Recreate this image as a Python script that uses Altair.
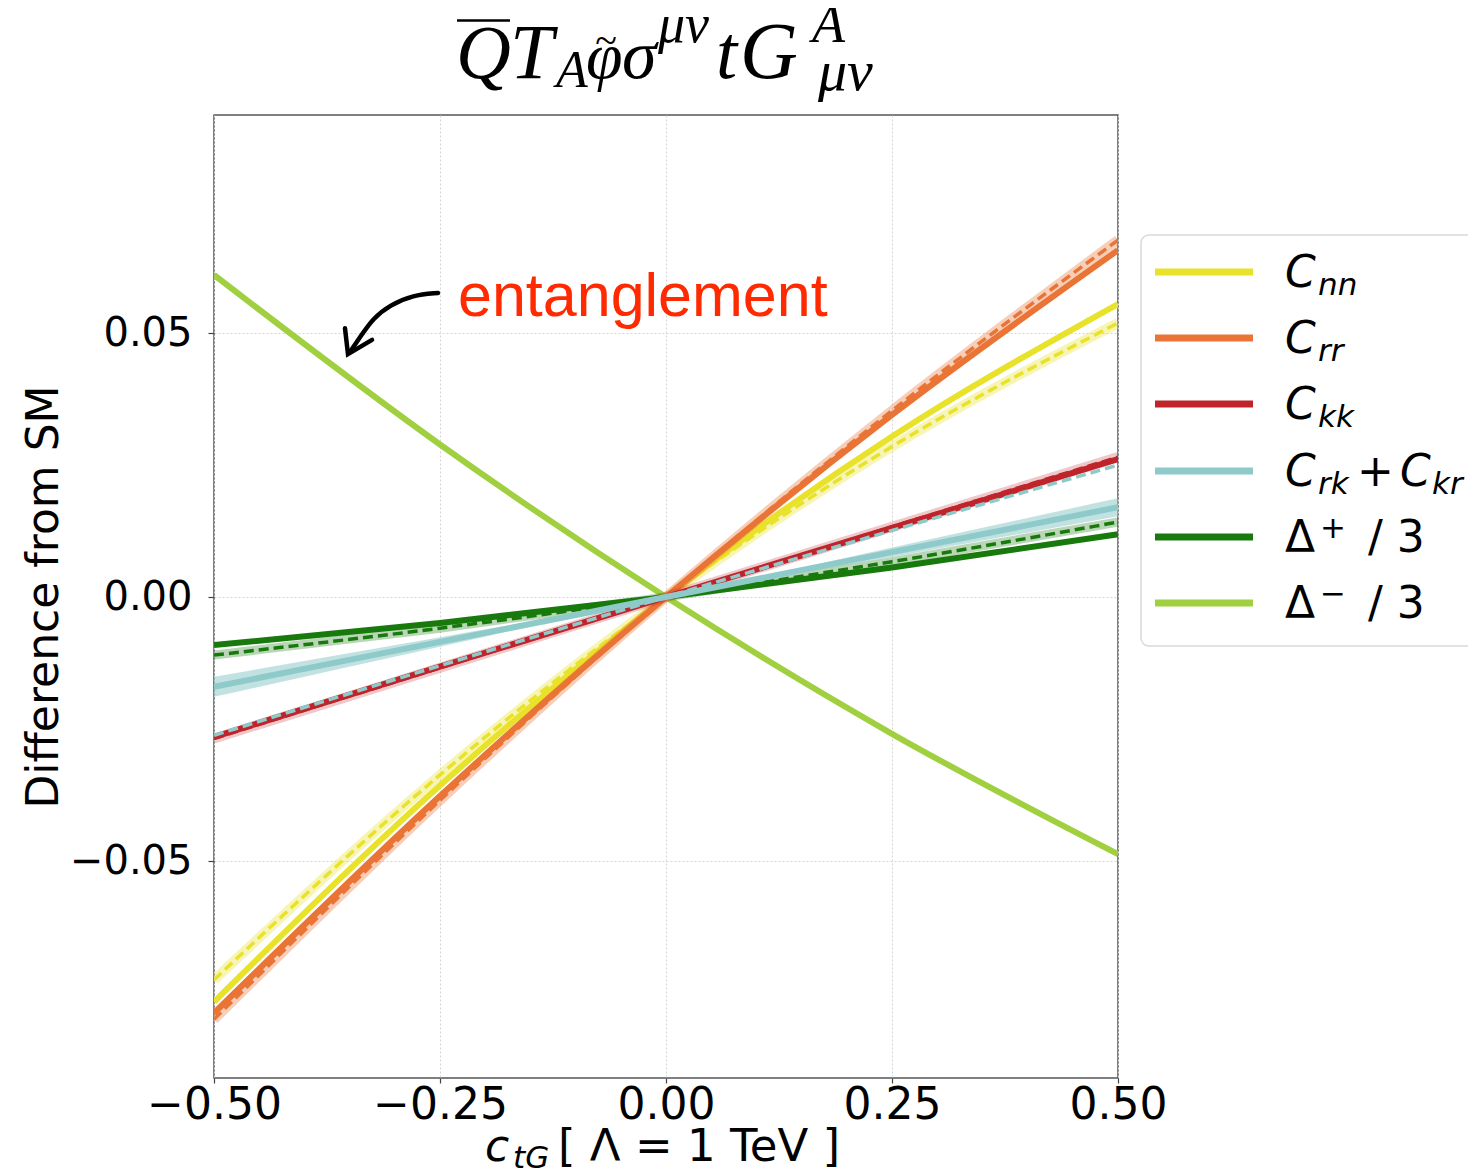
import altair as alt
import pandas as pd

# ---------------- data ----------------
c_vals = [-0.5, -0.25, 0.0, 0.25, 0.5]

series_names = ["C_nn", "C_rr", "C_kk", "C_rk + C_kr", "Delta+ / 3", "Delta- / 3"]
series_colors = ["#e9e22a", "#e97435", "#c0242b", "#8fcaca", "#187a0c", "#a0d040"]

solid_cnn = [-0.0767, -0.0357, 0.0, 0.0304, 0.0555]
solid_crr = [-0.0788, -0.0377, 0.0, 0.0345, 0.0657]
solid_ckk = [-0.0265, -0.0132, 0.0, 0.0131, 0.0261]
solid_crk = [-0.0170, -0.0085, 0.0, 0.0085, 0.0170]
solid_dp = [-0.0091, -0.0049, 0.0, 0.0056, 0.0119]
solid_dm = [0.0610, 0.0289, 0.0, -0.0259, -0.0487]

dash_cnn = [-0.0725, -0.0337, 0.0, 0.0285, 0.0519]
dash_crr = [-0.0800, -0.0385, 0.0, 0.0353, 0.0676]
dash_ckk = [-0.0268, -0.0134, 0.0, 0.0133, 0.0265]
dash_crk = [-0.0262, -0.0130, 0.0, 0.0126, 0.0250]
dash_dp = [-0.0110, -0.0059, 0.0, 0.0067, 0.0142]

crk_band_lo = [-0.0189, -0.0094, 0.0, 0.0076, 0.0153]
crk_band_hi = [-0.0151, -0.0076, 0.0, 0.0094, 0.0187]

x_ticks = [-0.5, -0.25, 0.0, 0.25, 0.5]
y_ticks = [-0.05, 0.0, 0.05]

# annotation arrow (data coordinates)
arrow_x = [-0.2522, -0.2799, -0.3053, -0.3241, -0.3385, -0.3496]
arrow_y = [0.0576, 0.0572, 0.0553, 0.0528, 0.0492, 0.0464]
head_x = [-0.3551, -0.3518, -0.3252]
head_y = [0.0509, 0.0460, 0.0487]
note_text = "entanglement"
note_pos = (-0.2301, 0.0532)

# ---------------- layout ----------------
W, H = 904, 963
OX, OY = 214, 115  # page position of plot origin

xscale = alt.Scale(domain=[-0.5, 0.5], nice=False, zero=False)
yscale = alt.Scale(domain=[-0.0911, 0.0913], nice=False, zero=False)
xaxis = alt.Axis(values=x_ticks, format=".2f", labelFont="DejaVu Sans", labelFontSize=44,
                 labelColor="black", tickSize=5, tickColor="#444", tickWidth=1.2,
                 labelPadding=0, grid=True, gridColor="#d4d4d4", gridDash=[2, 2],
                 gridWidth=1, domain=False, title=None, labelFlush=False,
                 labelOverlap=False, labelBound=False)
yaxis = alt.Axis(values=y_ticks, format=".2f", labelFont="DejaVu Sans", labelFontSize=40,
                 labelColor="black", tickSize=6, tickColor="#444", tickWidth=1.2,
                 labelPadding=16, grid=True, gridColor="#d4d4d4", gridDash=[2, 2],
                 gridWidth=1, domain=False, title=None, labelOverlap=False,
                 labelFlush=False, labelBound=False)


def X(f):
    return alt.X(f, type="quantitative", scale=xscale, axis=xaxis)


def Y(f):
    return alt.Y(f, type="quantitative", scale=yscale, axis=yaxis)


one = pd.DataFrame({"k": [0]})
layers = []


def line_layer(vals, color, width, dash=None, opacity=1.0):
    df = pd.DataFrame({"c": c_vals, "v": vals})
    kw = dict(color=color, strokeWidth=width, opacity=opacity, strokeCap="butt", clip=True,
              interpolate="monotone")
    if dash:
        kw["strokeDash"] = dash
    return alt.Chart(df).mark_line(**kw).encode(x=X("c"), y=Y("v"))


col = dict(zip(series_names, series_colors))

# draw order: Delta-, Delta+, Cnn, Crr, Ckk, Crk
layers.append(line_layer(solid_dm, col["Delta- / 3"], 6))

layers.append(line_layer(dash_dp, col["Delta+ / 3"], 9, opacity=0.3))
layers.append(line_layer(solid_dp, col["Delta+ / 3"], 6))
layers.append(line_layer(dash_dp, col["Delta+ / 3"], 3.5, dash=[10, 5]))

layers.append(line_layer(dash_cnn, col["C_nn"], 10, opacity=0.35))
layers.append(line_layer(solid_cnn, col["C_nn"], 6))
layers.append(line_layer(dash_cnn, col["C_nn"], 3.5, dash=[10, 5]))

layers.append(line_layer(dash_crr, col["C_rr"], 10, opacity=0.35))
layers.append(line_layer(solid_crr, col["C_rr"], 6))
layers.append(line_layer(dash_crr, col["C_rr"], 3.5, dash=[10, 5]))

layers.append(line_layer(dash_ckk, col["C_kk"], 10, opacity=0.25))
layers.append(line_layer(solid_ckk, col["C_kk"], 6))
layers.append(line_layer(dash_ckk, col["C_kk"], 3.5, dash=[10, 5]))

band_df = pd.DataFrame({"c": c_vals, "lo": crk_band_lo, "hi": crk_band_hi})
layers.append(alt.Chart(band_df).mark_area(color=col["C_rk + C_kr"], opacity=0.55, clip=True,
                                           interpolate="monotone")
              .encode(x=X("c"), y=Y("lo"), y2="hi"))
layers.append(line_layer(solid_crk, col["C_rk + C_kr"], 6))
layers.append(line_layer(dash_crk, col["C_rk + C_kr"], 3.5, dash=[10, 5]))

# arrow + note
arr_df = pd.DataFrame({"c": arrow_x, "v": arrow_y, "i": list(range(len(arrow_x)))})
layers.append(alt.Chart(arr_df).mark_line(color="black", strokeWidth=4.5, interpolate="basis",
                                          strokeCap="round")
              .encode(x=X("c"), y=Y("v"), order="i:Q"))
head_df = pd.DataFrame({"c": head_x, "v": head_y, "i": [0, 1, 2]})
layers.append(alt.Chart(head_df).mark_line(color="black", strokeWidth=4.5, strokeCap="round",
                                           strokeJoin="miter")
              .encode(x=X("c"), y=Y("v"), order="i:Q"))
layers.append(alt.Chart(one).mark_text(text=note_text, font="Liberation Sans", fontSize=61,
                                       color="#ff2a00", align="left", baseline="alphabetic")
              .encode(x=alt.datum(note_pos[0]), y=alt.datum(note_pos[1])))


def txt(s, px, py, size, font="DejaVu Sans", style="normal", color="black",
        align="left", angle=0, baseline="alphabetic"):
    return alt.Chart(one).mark_text(text=s, font=font, fontSize=size, fontStyle=style,
                                    color=color, align=align, baseline=baseline,
                                    angle=angle).encode(x=alt.value(px - OX), y=alt.value(py - OY))


def hrule(x1, x2, py, color, width):
    return alt.Chart(one).mark_rule(color=color, strokeWidth=width).encode(
        x=alt.value(x1 - OX), x2=alt.value(x2 - OX), y=alt.value(py - OY))


# ---- title: Qbar T_A phi~ sigma^{mu nu} t G^A_{mu nu}
SERIF = "Liberation Serif"
title_parts = [
    ("Q", 456, 78, 76), ("T", 510, 78, 78), ("A", 556, 87, 52),
    ("φ", 586, 78, 66), ("σ", 622, 78, 70), ("μν", 658, 42, 54),
    ("t", 716, 78, 76), ("G", 740, 78, 80), ("A", 812, 42, 54), ("μν", 818, 90, 58),
]
for s, px, py, sz in title_parts:
    layers.append(txt(s, px, py, sz, font=SERIF, style="italic"))
layers.append(txt("~", 606, 54, 40, font=SERIF, align="center"))
layers.append(hrule(457, 510, 20.5, "black", 2.5))

# ---- axis titles
layers.append(txt("Difference from SM", 58, 597, 44, angle=270, align="center"))
layers.append(txt("c", 485, 1161, 44, style="italic"))
layers.append(txt("tG", 513, 1168, 31, style="italic"))
layers.append(txt("[ Λ = 1 TeV ]", 558, 1161, 45))

# ---- legend
layers.append(alt.Chart(one).mark_rect(fill="white", stroke="#d9d9d9", strokeWidth=1.5,
                                       cornerRadius=8)
              .encode(x=alt.value(1141 - OX), x2=alt.value(1520 - OX),
                      y=alt.value(235 - OY), y2=alt.value(646 - OY)))
row_y = [272, 338, 404, 471, 537, 603]
for i, c in enumerate(series_colors):
    layers.append(hrule(1155, 1253, row_y[i], c, 7))

subs = ["nn", "rr", "kk"]
for i, sub in enumerate(subs):
    layers.append(txt("C", 1285, row_y[i] + 15, 44, style="italic"))
    layers.append(txt(sub, 1318, row_y[i] + 23, 31, style="italic"))
r = row_y[3]
layers.append(txt("C", 1285, r + 15, 44, style="italic"))
layers.append(txt("rk", 1318, r + 23, 31, style="italic"))
layers.append(txt("+", 1357, r + 15, 44))
layers.append(txt("C", 1400, r + 15, 44, style="italic"))
layers.append(txt("kr", 1432, r + 23, 31, style="italic"))
for i, sup in [(4, "+"), (5, "−")]:
    r = row_y[i]
    layers.append(txt("Δ", 1285, r + 15, 44))
    layers.append(txt(sup, 1320, r + 1, 31))
    layers.append(txt("/ 3", 1368, r + 15, 44))

chart = alt.layer(*layers).properties(
    width=W, height=H,
    autosize=alt.AutoSizeParams(type="none"),
    padding={"left": OX - 8, "top": OY - 8, "right": 350, "bottom": 100},
    background="white",
).configure_view(stroke="#555555", strokeWidth=1.5)

chart.save("out.html", embed_options={"renderer": "svg", "actions": False})
